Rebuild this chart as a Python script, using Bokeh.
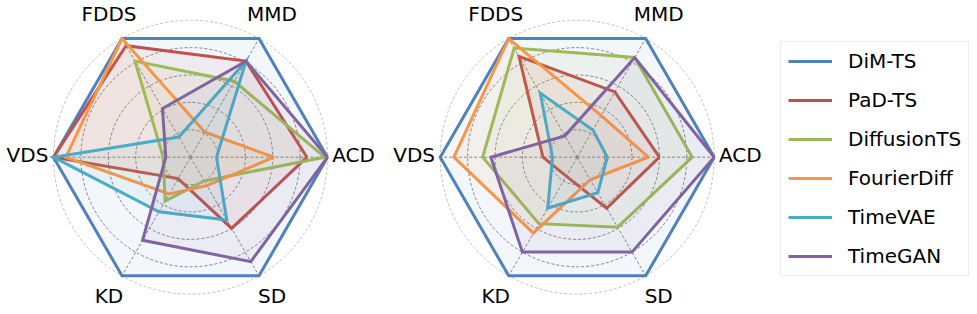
import numpy as np
from bokeh.plotting import figure
from bokeh.models import Range1d, Legend, LegendItem
from bokeh.core.properties import value
from bokeh.embed import file_html
from bokeh.resources import INLINE

# ---- data ----
metrics = ["ACD", "MMD", "FDDS", "VDS", "KD", "SD"]
methods = ["DiM-TS", "PaD-TS", "DiffusionTS", "FourierDiff", "TimeVAE", "TimeGAN"]
colors = ["#4F81BD", "#C0504D", "#9BBB59", "#F79646", "#4BACC6", "#8064A2"]

left_dim_ts = [1.00, 1.00, 1.00, 1.00, 1.00, 1.00]
left_pad_ts = [0.85, 0.81, 0.94, 1.00, 0.18, 0.60]
left_diffusion_ts = [0.98, 0.64, 0.81, 0.20, 0.37, 0.20]
left_fourier_diff = [0.61, 0.21, 1.00, 0.91, 0.31, 0.24]
left_time_vae = [0.19, 0.81, 0.17, 1.00, 0.46, 0.53]
left_time_gan = [1.00, 0.81, 0.41, 0.18, 0.70, 0.88]

right_dim_ts = [1.00, 1.00, 1.00, 1.00, 1.00, 1.00]
right_pad_ts = [0.60, 0.55, 0.85, 0.25, 0.16, 0.43]
right_diffusion_ts = [0.84, 0.84, 0.92, 0.69, 0.56, 0.59]
right_fourier_diff = [0.52, 0.35, 1.00, 0.90, 0.64, 0.19]
right_time_vae = [0.22, 0.23, 0.54, 0.18, 0.43, 0.30]
right_time_gan = [1.00, 0.84, 0.18, 0.63, 0.80, 0.80]

grid_levels = [0.2, 0.4, 0.6, 0.8]

left_series = [left_dim_ts, left_pad_ts, left_diffusion_ts, left_fourier_diff, left_time_vae, left_time_gan]
right_series = [right_dim_ts, right_pad_ts, right_diffusion_ts, right_fourier_diff, right_time_vae, right_time_gan]

# ---- layout ----
PX = 137.0          # pixels per unit radius
W, H = 975, 312
x0 = -190.0 / PX
y1 = 156.7 / PX
centers = [(0.0, 0.0), ((576.7 - 190.0) / PX, 0.0)]

p = figure(width=W, height=H, output_backend="svg", toolbar_location=None,
           x_range=Range1d(x0, x0 + W / PX), y_range=Range1d(y1 - H / PX, y1),
           x_axis_type=None, y_axis_type=None, min_border=0)
p.outline_line_color = None
p.grid.visible = False
p.background_fill_color = "white"

angles = np.deg2rad(np.arange(6) * 60.0)

legend_renderers = None
for (cx, cy), series in zip(centers, [left_series, right_series]):
    # grid rings
    p.circle(x=[cx] * len(grid_levels), y=[cy] * len(grid_levels), radius=grid_levels,
             fill_color=None, line_color="#666666", line_width=0.8, line_dash="3 2")
    p.circle(x=[cx], y=[cy], radius=[1.0], fill_color=None,
             line_color="#b0b0b0", line_width=0.8, line_dash="3 2")
    # spokes
    p.multi_line(xs=[[cx, cx + np.cos(a)] for a in angles],
                 ys=[[cy, cy + np.sin(a)] for a in angles],
                 line_color="#666666", line_width=0.8, line_dash="3 2")
    rends = []
    for vals, col in zip(series, colors):
        v = np.array(vals + vals[:1])
        a = np.concatenate([angles, angles[:1]])
        xs = cx + v * np.cos(a)
        ys = cy + v * np.sin(a)
        p.patch(xs, ys, fill_color=col, fill_alpha=0.07, line_color=None)
        r = p.line(xs, ys, line_color=col, line_width=3, line_join="miter")
        rends.append(r)
    if legend_renderers is None:
        legend_renderers = rends
    # labels
    lr = 1.19
    p.text(x=[cx + lr * np.cos(a) for a in angles],
           y=[cy + lr * np.sin(a) + 0.015 for a in angles],
           text=metrics, text_font=value("DejaVu Sans"), text_font_size="20px",
           text_align="center", text_baseline="middle", text_color="black")

legend = Legend(items=[LegendItem(label=m, renderers=[r]) for m, r in zip(methods, legend_renderers)],
                location=(780, H - 276), orientation="vertical",
                label_text_font="DejaVu Sans", label_text_font_size="20px", label_text_color="black",
                glyph_width=44, glyph_height=20, label_height=20, label_standoff=16,
                spacing=15, padding=7, margin=0,
                border_line_color="#d9d9d9", border_line_width=1,
                background_fill_color="white", background_fill_alpha=1.0)
p.add_layout(legend)

open("out.html", "w").write(file_html(p, INLINE))
